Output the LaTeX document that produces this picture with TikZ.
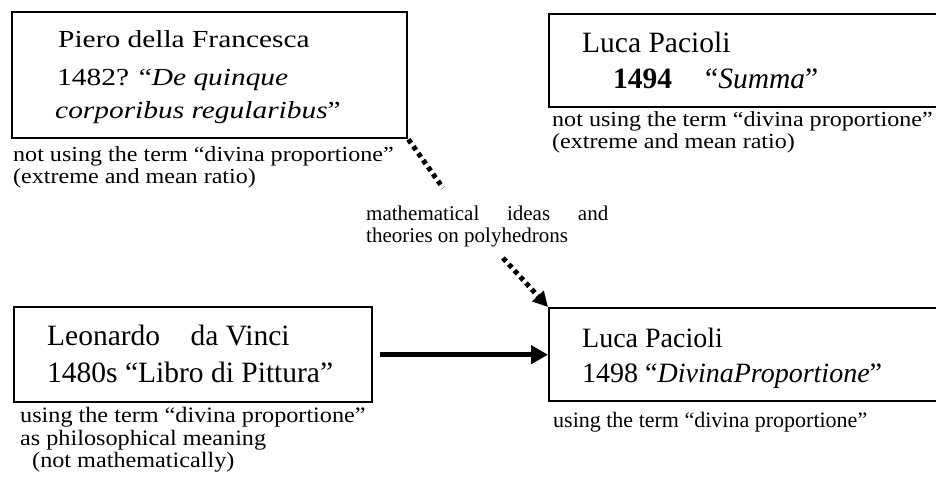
\documentclass[tikz,border=0pt]{standalone}
\usepackage{fontspec}
\setmainfont{Liberation Serif}
\newfontfamily\fstA[FakeStretch=1.2]{Liberation Serif}
\newfontfamily\fstB[FakeStretch=1.12]{Liberation Serif}
\newfontfamily\fstC[FakeStretch=1.1]{Liberation Serif}
\usetikzlibrary{arrows.meta}
\begin{document}
\begin{tikzpicture}[x=1pt,y=-1pt,
  box/.style={draw,line width=2.4pt,inner sep=0pt,anchor=north west},
  txt/.style={anchor=base west,inner sep=0pt},
  bigA/.style={txt,font=\fstA\fontsize{24.5}{30}\selectfont},
  bigB/.style={txt,font=\fontsize{29.5}{34}\selectfont},
  bigC/.style={txt,font=\fontsize{28}{32}\selectfont},
  smallA/.style={txt,font=\fstB\fontsize{21.5}{24}\selectfont},
  smallC/.style={txt,font=\fstC\fontsize{22}{24}\selectfont},
  smallD/.style={txt,font=\fontsize{22}{24}\selectfont},
  midtxt/.style={txt,font=\fontsize{21}{24}\selectfont},
  solidarrow/.style={line width=5.5pt,-{Triangle[length=17pt,width=18pt]}},
  dotline/.style={line width=5pt,dash pattern=on 4.5pt off 4pt},
  dotarrow/.style={dotline,-{Triangle[length=15pt,width=15pt]}}
]
\clip (0,0) rectangle (936,477);
\fill[white] (0,0) rectangle (936,477);

% boxes
\node[box,minimum width=395pt,minimum height=126pt] (piero) at (11,11) {};
\node[box,minimum width=400pt,minimum height=93pt] (luca1) at (548,13) {};
\node[box,minimum width=358pt,minimum height=95pt] (leo) at (13,306) {};
\node[box,minimum width=400pt,minimum height=93pt] (luca2) at (548,307) {};

% box texts
\node[bigA] (p1) at (58,47) {Piero della Francesca};
\node[bigA] (p2) at (57,85) {1482? “\textit{De quinque}};
\node[bigA] (p3) at (55,118) {\textit{corporibus regularibus}”};

\node[bigB] (l1) at (582,52) {Luca Pacioli};
\node[bigB] (l2) at (613,88) {\textbf{1494}};
\node[bigB] (l3) at (705,88) {“\textit{Summa}”};

\node[bigB] (v1) at (47,345) {Leonardo\hspace{23pt} da Vinci};
\node[bigB] (v2) at (47,382) {1480s “Libro di Pittura”};

\node[bigC] (m1) at (582,347) {Luca Pacioli};
\node[bigC] (m2) at (582,382) {1498 “\textit{DivinaProportione}”};

% notes
\node[smallA] (n1) at (13,161) {not using the term “divina proportione”};
\node[smallA] (n2) at (13,183) {(extreme and mean ratio)};
\node[smallA] (n3) at (552,126) {not using the term “divina proportione”};
\node[smallA] (n4) at (552,148) {(extreme and mean ratio)};
\node[smallC] (n5) at (20,422) {using the term “divina proportione”};
\node[smallC] (n6) at (20,445) {as philosophical meaning};
\node[smallC] (n7) at (32,467) {(not mathematically)};
\node[smallD] (n8) at (553,427) {using the term “divina proportione”};

\node[midtxt] (mid1) at (366,220) {\makebox[242pt][s]{mathematical ideas and}};
\node[midtxt] (mid2) at (366,242) {theories on polyhedrons};

% connectors
\coordinate (d1) at (443,188);
\coordinate (d2) at (503,258);
\draw[dotline] (piero.south east) -- (d1);
\draw[dotarrow] (d2) -- (luca2.north west);
\draw[solidarrow] ([xshift=7pt]leo.east) -- (luca2.west);
\end{tikzpicture}
\end{document}
